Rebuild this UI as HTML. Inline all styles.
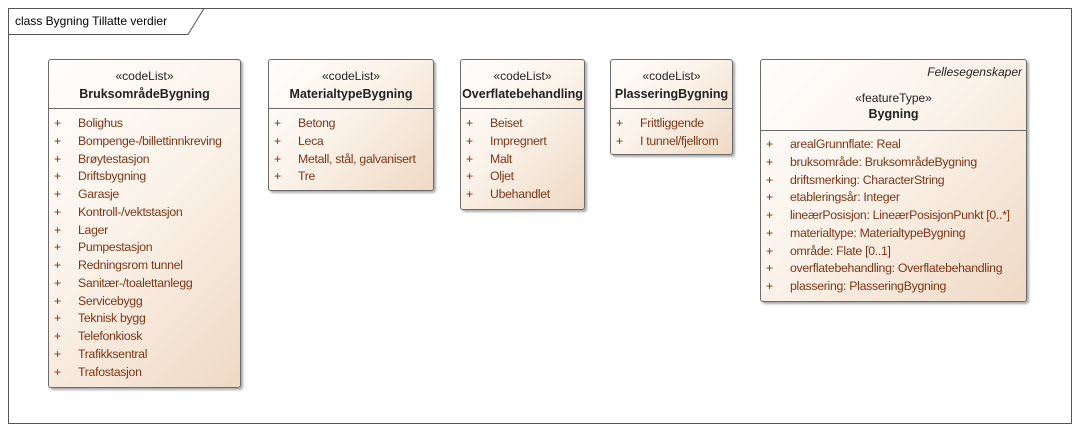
<!DOCTYPE html><html><head><meta charset="utf-8"><style>
body{margin:0;width:1079px;height:431px;background:#fff;font-family:"Liberation Sans",sans-serif;position:relative;overflow:hidden}
.frame{position:absolute;left:8px;top:8px;width:1062px;height:414px;border:1px solid #555}
.tab{position:absolute;left:8px;top:8px}
.b{position:absolute;border:1px solid #6b6b6b;border-radius:3px;background:linear-gradient(135deg,#fffefd 0%,#fbf3ea 45%,#efd9c4 100%);box-shadow:2px 2px 2px #aaa;box-sizing:border-box}
.h{position:absolute;left:0;right:0;text-align:center;font-size:12px;color:#222}
.h b{display:block;margin-top:4px;font-size:12.5px}
.d{position:absolute;left:0;right:0;border-top:1px solid #6b6b6b}
.i{position:absolute;font-size:12.3px;color:#7a3517;white-space:nowrap;letter-spacing:-0.3px}
.i span{position:absolute;left:0;color:#7a3517}
</style></head><body>
<div class="frame"></div>
<svg class="tab" width="200" height="28"><path d="M0 26.5 H180 L196 0.5" fill="none" stroke="#555"/><text x="7" y="17" font-family="Liberation Sans" font-size="12" fill="#000">class Bygning Tillatte verdier</text></svg>

<div class="b" style="left:48px;top:59px;width:193px;height:329px">
<div class="h" style="top:9px">«codeList»<b>BruksområdeBygning</b></div>
<div class="d" style="top:48px"></div>
</div>
<div class="b" style="left:268px;top:59px;width:166px;height:132px">
<div class="h" style="top:9px">«codeList»<b>MaterialtypeBygning</b></div>
<div class="d" style="top:48px"></div>
</div>
<div class="b" style="left:460px;top:59px;width:125px;height:151px">
<div class="h" style="top:9px">«codeList»<b>Overflatebehandling</b></div>
<div class="d" style="top:48px"></div>
</div>
<div class="b" style="left:610px;top:59px;width:123px;height:96px">
<div class="h" style="top:9px">«codeList»<b>PlasseringBygning</b></div>
<div class="d" style="top:48px"></div>
</div>
<div class="b" style="left:760px;top:59px;width:267px;height:243px">
<div style="position:absolute;right:4px;top:5px;font-size:12px;font-style:italic;color:#222">Fellesegenskaper</div>
<div class="h" style="top:31px">«featureType»<b style="margin-top:2px">Bygning</b></div>
<div class="d" style="top:70px"></div>
</div>
<div id="items"></div>
<script>
function L(x,y,arr){var s='';arr.forEach(function(t,k){s+='<div class="i" style="left:'+x+'px;top:'+(y+k*17.75)+'px"><span>+</span><span style="left:24px">'+t+'</span></div>';});document.getElementById('items').insertAdjacentHTML('beforeend',s);}
L(54,116,["Bolighus","Bompenge-/billettinnkreving","Brøytestasjon","Driftsbygning","Garasje","Kontroll-/vektstasjon","Lager","Pumpestasjon","Redningsrom tunnel","Sanitær-/toalettanlegg","Servicebygg","Teknisk bygg","Telefonkiosk","Trafikksentral","Trafostasjon"]);
L(274,116,["Betong","Leca","Metall, stål, galvanisert","Tre"]);
L(466,116,["Beiset","Impregnert","Malt","Oljet","Ubehandlet"]);
L(616,116,["Frittliggende","I tunnel/fjellrom"]);
L(766,137,["arealGrunnflate: Real","bruksområde: BruksområdeBygning","driftsmerking: CharacterString","etableringsår: Integer","lineærPosisjon: LineærPosisjonPunkt [0..*]","materialtype: MaterialtypeBygning","område: Flate [0..1]","overflatebehandling: Overflatebehandling","plassering: PlasseringBygning"]);
</script>
</body></html>
